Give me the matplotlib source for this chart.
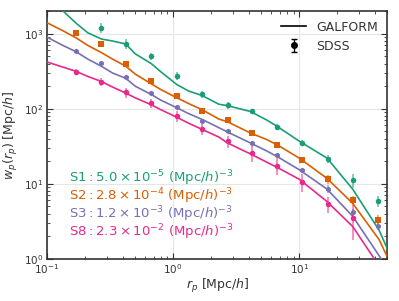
import matplotlib
matplotlib.use('Agg')
import matplotlib.pyplot as plt
from matplotlib.lines import Line2D
import numpy as np

# SDSS projected correlation function bins
rp_obs = [0.17, 0.27, 0.42, 0.67, 1.07, 1.7, 2.7, 4.2, 6.7, 10.6, 16.8, 26.6, 42.3]

wp_s1 = [np.nan, 1200, 740, 500, 275, 156, 112, 94, 57, 35.5, 21.5, 11.1, 5.9]
err_s1 = [np.nan, 190, 110, 55, 30, 17, 12, 6, 5, 3, 2.6, 2.3, 1.0]
wp_s2 = [1020, 740, 400, 231, 146, 94, 71, 48, 33, 21, 11.5, 6.0, 3.3]
err_s2 = [70, 45, 25, 15, 8, 5, 4, 3, 2, 1.5, 1.5, 0.85, 0.5]
wp_s3 = [590, 410, 265, 163, 105, 69, 50, 35, 24, 15.4, 8.5, 4.15, 2.7]
err_s3 = [30, 20, 13, 9, 6, 4, 3, 2.2, 1.5, 1.0, 1.0, 0.45, 0.3]
wp_s8 = [310, 230, 165, 118, 80, 54, 37, 26, 17.5, 10.7, 5.4, 3.5, np.nan]
err_s8 = [30, 30, 24, 17, 13, 9, 7, 6.5, 4.5, 3, 1.3, 1.7, np.nan]

# GALFORM model curves
rp_model = [0.10, 0.133, 0.17, 0.21, 0.27, 0.33, 0.42, 0.50, 0.67, 0.80, 1.07, 1.33,
            1.7, 2.3, 2.7, 4.1, 5.5, 6.7, 10.0, 16.6, 26.5, 43.0, 50.0]
model_s1 = [3000, 2030, 1380, 1030, 850, 800, 730, 540, 400, 310, 210, 172,
            150, 115, 110, 92, 71, 58, 37, 22, 8.5, 2.4, 1.35]
model_s2 = [1400, 1100, 880, 700, 560, 460, 370, 290, 215, 180, 140, 117,
            97, 73, 67, 47.5, 39, 33, 22, 11.8, 5.5, 1.8, 1.05]
model_s3 = [900, 700, 575, 460, 368, 300, 255, 200, 155, 130, 103, 86,
            72, 56, 49, 35, 27.5, 23, 15.4, 8.5, 3.7, 1.1, 0.75]
model_s8 = [420, 360, 315, 270, 231, 195, 162, 140, 113, 97, 77, 64,
            53, 42, 35, 25, 19.5, 16.5, 11.5, 5.8, 2.7, 0.8, 0.45]

labels = [r'$\mathrm{S1}: 5.0\times10^{-5}$ $(\mathrm{Mpc}/h)^{-3}$',
          r'$\mathrm{S2}: 2.8\times10^{-4}$ $(\mathrm{Mpc}/h)^{-3}$',
          r'$\mathrm{S3}: 1.2\times10^{-3}$ $(\mathrm{Mpc}/h)^{-3}$',
          r'$\mathrm{S8}: 2.3\times10^{-2}$ $(\mathrm{Mpc}/h)^{-3}$']
colors = ['#1b9e77', '#d95f02', '#7570b3', '#e7298a']
markers = ['o', 's', 'h', 'o']

plt.rcParams['font.family'] = 'DejaVu Sans'
plt.rcParams['axes.edgecolor'] = '#333333'
plt.rcParams['xtick.color'] = '#333333'
plt.rcParams['ytick.color'] = '#333333'

fig = plt.figure(figsize=(3.99, 3.01), dpi=100)
ax = fig.add_axes([0.118, 0.140, 0.853, 0.823])

obs = [(wp_s1, err_s1), (wp_s2, err_s2), (wp_s3, err_s3), (wp_s8, err_s8)]
models = [model_s1, model_s2, model_s3, model_s8]

for (wp, err), model, c, m in zip(obs, models, colors, markers):
    ax.plot(rp_model, model, color=c, lw=1.2, zorder=3)
    eb = ax.errorbar(rp_obs, wp, yerr=err, fmt=m, color=c, ms=4, mew=0,
                     ecolor=c, elinewidth=1.1, capsize=3, capthick=1.1, zorder=4)
    for part in eb[1] + eb[2]:
        part.set_alpha(0.65)

ax.set_xscale('log')
ax.set_yscale('log')
ax.set_xlim(0.1, 50)
ax.set_ylim(1, 2000)

ax.grid(True, which='major', color='#e6e6e6', lw=0.8, zorder=0)
ax.set_axisbelow(True)
ax.tick_params(which='both', direction='in', top=True, right=True, labelsize=7.5)
ax.tick_params(which='major', length=4, width=0.8, pad=2.5)
ax.tick_params(which='minor', length=2.5, width=0.6)
for sp in ax.spines.values():
    sp.set_linewidth(1.2)

ax.set_xlabel(r'$r_p$ [Mpc/$h$]', fontsize=9, color='#333333', labelpad=0.5)
ax.set_ylabel(r'$w_p(r_p)$ [Mpc/$h$]', fontsize=9, color='#333333', labelpad=3)

ypos = [0.327, 0.253, 0.181, 0.109]
for lab, c, yy in zip(labels, colors, ypos):
    ax.text(0.065, yy, lab, color=c, fontsize=9.5, transform=ax.transAxes, va='center')

h_line = Line2D([], [], color='k', lw=1.2)
h_err = ax.errorbar([np.nan], [np.nan], yerr=[np.nan], fmt='o', color='k', ms=4,
                    capsize=2, elinewidth=1)
leg = ax.legend([h_line, h_err], ['GALFORM', 'SDSS'], loc='upper right',
                frameon=False, fontsize=9, borderaxespad=0.35)
for t in leg.get_texts():
    t.set_color('#333333')

fig.savefig('out.png', dpi=100)
